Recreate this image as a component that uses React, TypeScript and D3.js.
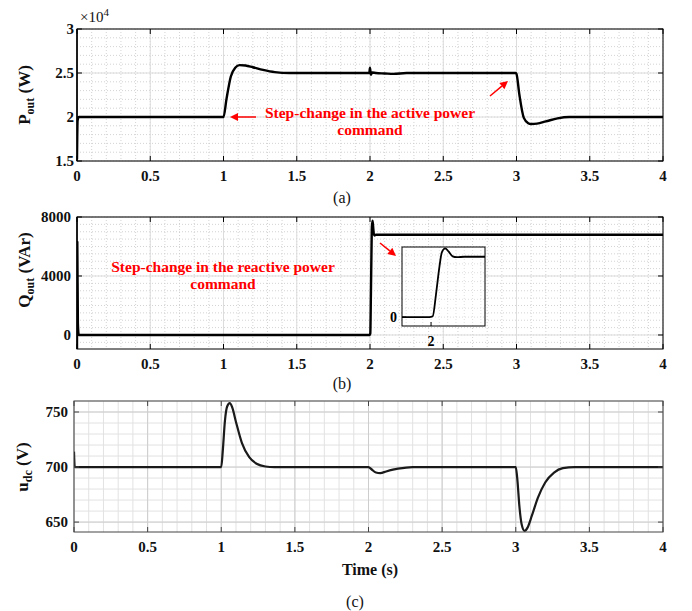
import React, { useEffect, useRef } from 'react';
import * as d3 from 'd3';

// time axis shared by the three panels
const timeTicks = [0, 0.5, 1, 1.5, 2, 2.5, 3, 3.5, 4];

// (a) active power, in units of 1e4 W
const pTime = [0, 0.004, 0.012, 1.0, 1.02, 1.05, 1.08, 1.11, 1.15, 1.2, 1.27, 1.35, 1.45, 1.995, 2.0, 2.006, 2.015, 2.04, 2.1, 2.16, 2.25, 2.995, 3.0, 3.02, 3.05, 3.08, 3.1, 3.14, 3.2, 3.28, 3.36, 4.0];
const pValue = [1.52, 1.96, 2.0, 2.0, 2.2, 2.46, 2.56, 2.59, 2.585, 2.565, 2.535, 2.51, 2.5, 2.5, 2.56, 2.48, 2.505, 2.5, 2.495, 2.49, 2.5, 2.5, 2.49, 2.25, 1.99, 1.93, 1.92, 1.925, 1.95, 1.985, 2.0, 2.0];
const pTicks = [1.5, 2, 2.5, 3];

// (b) reactive power, VAr
const qTime = [0, 0.002, 0.006, 0.012, 1.998, 2.002, 2.006, 2.01, 2.013, 2.017, 2.021, 2.026, 2.031, 2.04, 4.0];
const qValue = [-950, 6300, 800, 0, 0, 100, 2600, 5600, 7300, 7750, 7400, 6850, 6750, 6800, 6800];
const qTicks = [0, 4000, 8000];

// (c) dc-link voltage, V
const uTime = [0, 0.005, 1.0, 1.01, 1.025, 1.04, 1.058, 1.075, 1.1, 1.14, 1.19, 1.24, 1.3, 1.36, 2.0, 2.02, 2.05, 2.08, 2.12, 2.2, 2.3, 3.0, 3.01, 3.025, 3.04, 3.06, 3.08, 3.11, 3.15, 3.2, 3.26, 3.32, 3.4, 4.0];
const uValue = [714, 700, 700, 714, 742, 755, 758, 754, 741, 722, 709, 703, 700.5, 700, 700, 698, 695, 694.5, 696, 698.5, 700, 700, 690, 664, 648, 642, 645, 656, 672, 686, 695, 699, 700, 700];
const uTicks = [650, 700, 750];

const FONT = '"Liberation Serif", "Times New Roman", serif';

type Panel = {
  left: number; right: number; top: number; bottom: number;
  yDomain: [number, number]; yTicks: number[];
  xMinor: number; yMinor: number;
  t: number[]; v: number[];
  soft?: boolean; labelGap: number;
};

function drawPanel(svg: any, id: string, p: Panel) {
  const x = d3.scaleLinear().domain([0, 4]).range([p.left, p.right]);
  const y = d3.scaleLinear().domain(p.yDomain).range([p.bottom, p.top]);
  const g = svg.append('g');

  g.append('clipPath').attr('id', id).append('rect')
    .attr('x', p.left).attr('y', p.top).attr('width', p.right - p.left).attr('height', p.bottom - p.top);

  // minor grid
  const minorStroke = p.soft ? '#e2e2e2' : '#c8c8c8';
  const minorDash = p.soft ? null : '1,2';
  d3.range(0, 4.0001, p.xMinor).forEach(t => {
    g.append('line').attr('x1', x(t)).attr('x2', x(t)).attr('y1', p.top).attr('y2', p.bottom)
      .attr('stroke', minorStroke).attr('stroke-width', p.soft ? 1 : 0.8).attr('stroke-dasharray', minorDash);
  });
  d3.range(p.yTicks[0] - Math.ceil((p.yTicks[0] - p.yDomain[0]) / p.yMinor) * p.yMinor, p.yDomain[1] + 1e-9, p.yMinor)
    .filter(v => v >= p.yDomain[0] && v <= p.yDomain[1])
    .forEach(v => {
      g.append('line').attr('x1', p.left).attr('x2', p.right).attr('y1', y(v)).attr('y2', y(v))
        .attr('stroke', minorStroke).attr('stroke-width', p.soft ? 1 : 0.8).attr('stroke-dasharray', minorDash);
    });

  // major grid
  const majorStroke = p.soft ? '#cdcdcd' : '#dcdcdc';
  timeTicks.forEach(t => {
    g.append('line').attr('x1', x(t)).attr('x2', x(t)).attr('y1', p.top).attr('y2', p.bottom)
      .attr('stroke', majorStroke).attr('stroke-width', 1);
  });
  p.yTicks.forEach(v => {
    g.append('line').attr('x1', p.left).attr('x2', p.right).attr('y1', y(v)).attr('y2', y(v))
      .attr('stroke', majorStroke).attr('stroke-width', 1);
  });

  // signal
  const line = d3.line<number>().x((_, i) => x(p.t[i])).y(d => y(d)).curve(d3.curveMonotoneX);
  g.append('path').datum(p.v).attr('d', line).attr('fill', 'none')
    .attr('stroke', p.soft ? '#1a1a1a' : '#000').attr('stroke-width', p.soft ? 2.2 : 2.4)
    .attr('stroke-linejoin', 'round').attr('clip-path', `url(#${id})`);

  // box and inward ticks
  const axisColor = p.soft ? '#444' : '#000';
  g.append('rect').attr('x', p.left).attr('y', p.top).attr('width', p.right - p.left).attr('height', p.bottom - p.top)
    .attr('fill', 'none').attr('stroke', axisColor).attr('stroke-width', 1);
  timeTicks.forEach(t => {
    g.append('line').attr('x1', x(t)).attr('x2', x(t)).attr('y1', p.bottom).attr('y2', p.bottom - 5).attr('stroke', axisColor);
    g.append('line').attr('x1', x(t)).attr('x2', x(t)).attr('y1', p.top).attr('y2', p.top + 5).attr('stroke', axisColor);
    g.append('text').attr('x', x(t)).attr('y', p.bottom + 20).attr('text-anchor', 'middle')
      .attr('font-family', FONT).attr('font-weight', 'bold').attr('font-size', 15).attr('fill', '#111').text(String(t));
  });
  p.yTicks.forEach(v => {
    g.append('line').attr('x1', p.left).attr('x2', p.left + 5).attr('y1', y(v)).attr('y2', y(v)).attr('stroke', axisColor);
    g.append('line').attr('x1', p.right).attr('x2', p.right - 5).attr('y1', y(v)).attr('y2', y(v)).attr('stroke', axisColor);
    g.append('text').attr('x', p.left - p.labelGap).attr('y', y(v) + 5).attr('text-anchor', 'end')
      .attr('font-family', FONT).attr('font-weight', 'bold').attr('font-size', 15).attr('fill', '#111').text(String(v));
  });
  // thick left spine as in the original (a) and (b)
  if (!p.soft) {
    g.append('line').attr('x1', p.left).attr('x2', p.left).attr('y1', p.top).attr('y2', p.bottom)
      .attr('stroke', '#000').attr('stroke-width', 1.5);
  }
  return { x, y };
}

function yLabel(svg: any, cx: number, cy: number, main: string, sub: string, unit: string) {
  const t = svg.append('text').attr('transform', `translate(${cx},${cy}) rotate(-90)`)
    .attr('text-anchor', 'middle').attr('font-family', FONT).attr('font-weight', 'bold')
    .attr('font-size', 17).attr('fill', '#111');
  t.append('tspan').text(main);
  t.append('tspan').attr('font-size', 12).attr('dy', 4).text(sub);
  t.append('tspan').attr('dy', -4).text(' ' + unit);
}

function arrow(svg: any, x1: number, y1: number, x2: number, y2: number) {
  const a = Math.atan2(y2 - y1, x2 - x1);
  const L = 8, Wd = 4;
  const bx = x2 - L * Math.cos(a), by = y2 - L * Math.sin(a);
  svg.append('line').attr('x1', x1).attr('y1', y1).attr('x2', bx).attr('y2', by)
    .attr('stroke', '#f00').attr('stroke-width', 1.5);
  svg.append('path')
    .attr('d', `M${x2},${y2}L${bx - Wd * Math.sin(a)},${by + Wd * Math.cos(a)}L${bx + Wd * Math.sin(a)},${by - Wd * Math.cos(a)}Z`)
    .attr('fill', '#f00');
}

function redText(svg: any, x: number, y: number, s: string) {
  svg.append('text').attr('x', x).attr('y', y).attr('text-anchor', 'middle')
    .attr('font-family', FONT).attr('font-weight', 'bold').attr('font-size', 15.5)
    .attr('fill', '#f00').text(s);
}

function caption(svg: any, x: number, y: number, s: string) {
  svg.append('text').attr('x', x).attr('y', y).attr('text-anchor', 'middle')
    .attr('font-family', FONT).attr('font-size', 16).attr('fill', '#111').text(s);
}

const App = () => {
  const ref = useRef<SVGSVGElement>(null);

  useEffect(() => {
    const svg = d3.select(ref.current);
    svg.selectAll('*').remove();

    // (a)
    drawPanel(svg, 'clipA', {
      left: 77, right: 663, top: 29, bottom: 161, yDomain: [1.5, 3], yTicks: pTicks,
      xMinor: 0.1, yMinor: 0.1, t: pTime, v: pValue, labelGap: 3,
    });
    const ex = svg.append('text').attr('x', 80).attr('y', 22).attr('font-family', FONT)
      .attr('font-size', 15).attr('fill', '#111');
    ex.append('tspan').text('\u00d710');
    ex.append('tspan').attr('font-size', 11).attr('dy', -6).text('4');
    yLabel(svg, 30, 95, 'P', 'out', '(W)');
    redText(svg, 370, 118, 'Step-change in the active power');
    redText(svg, 370, 135, 'command');
    arrow(svg, 256, 117, 230, 117);
    arrow(svg, 490, 96, 508, 81);
    caption(svg, 342, 203, '(a)');

    // (b)
    drawPanel(svg, 'clipB', {
      left: 77, right: 663, top: 217, bottom: 349, yDomain: [-950, 8000], yTicks: qTicks,
      xMinor: 0.1, yMinor: 500, t: qTime, v: qValue, labelGap: 6,
    });
    yLabel(svg, 30, 270, 'Q', 'out', '(VAr)');
    redText(svg, 223, 272, 'Step-change in the reactive power');
    redText(svg, 223, 289, 'command');
    arrow(svg, 380, 243, 396, 256);
    caption(svg, 342, 389, '(b)');

    // inset zoom around t = 2 s
    const ix = d3.scaleLinear().domain([1.965, 2.065]).range([402, 485]);
    const iy = d3.scaleLinear().domain([-1000, 7900]).range([326, 247]);
    const inset = svg.append('g');
    inset.append('rect').attr('x', 402).attr('y', 247).attr('width', 83).attr('height', 79).attr('fill', '#fff');
    inset.append('clipPath').attr('id', 'clipI').append('rect')
      .attr('x', 402).attr('y', 247).attr('width', 83).attr('height', 79);
    d3.range(1.97, 2.065, 0.01).forEach(t => {
      inset.append('line').attr('x1', ix(t)).attr('x2', ix(t)).attr('y1', 247).attr('y2', 326)
        .attr('stroke', '#d0d0d0').attr('stroke-width', 0.7).attr('stroke-dasharray', '1,2');
    });
    d3.range(0, 7900, 1000).forEach(v => {
      inset.append('line').attr('x1', 402).attr('x2', 485).attr('y1', iy(v)).attr('y2', iy(v))
        .attr('stroke', '#d0d0d0').attr('stroke-width', 0.7).attr('stroke-dasharray', '1,2');
    });
    const iline = d3.line<number>().x((_, i) => ix(qTime[i])).y(d => iy(d)).curve(d3.curveMonotoneX);
    inset.append('path').datum(qValue).attr('d', iline).attr('fill', 'none').attr('stroke', '#000')
      .attr('stroke-width', 1.8).attr('clip-path', 'url(#clipI)');
    inset.append('rect').attr('x', 402).attr('y', 247).attr('width', 83).attr('height', 79)
      .attr('fill', 'none').attr('stroke', '#000').attr('stroke-width', 1);
    inset.append('line').attr('x1', ix(2)).attr('x2', ix(2)).attr('y1', 326).attr('y2', 322).attr('stroke', '#000');
    inset.append('line').attr('x1', 402).attr('x2', 406).attr('y1', iy(0)).attr('y2', iy(0)).attr('stroke', '#000');
    inset.append('text').attr('x', ix(2)).attr('y', 346).attr('text-anchor', 'middle').attr('font-family', FONT)
      .attr('font-weight', 'bold').attr('font-size', 14).text('2');
    inset.append('text').attr('x', 397).attr('y', iy(0) + 5).attr('text-anchor', 'end').attr('font-family', FONT)
      .attr('font-weight', 'bold').attr('font-size', 14).text('0');

    // (c)
    drawPanel(svg, 'clipC', {
      left: 74, right: 663, top: 401, bottom: 532, yDomain: [641, 760], yTicks: uTicks,
      xMinor: 0.1, yMinor: 10, t: uTime, v: uValue, soft: true, labelGap: 6,
    });
    yLabel(svg, 28, 467, 'u', 'dc', '(V)');
    svg.append('text').attr('x', 370).attr('y', 575).attr('text-anchor', 'middle').attr('font-family', FONT)
      .attr('font-weight', 'bold').attr('font-size', 16).attr('fill', '#111').text('Time (s)');
    caption(svg, 355, 607, '(c)');
  }, []);

  return (
    <svg ref={ref} width={692} height={611}
      style={{ position: 'absolute', left: 0, top: 0, background: '#fff' }} />
  );
};

export default App;
